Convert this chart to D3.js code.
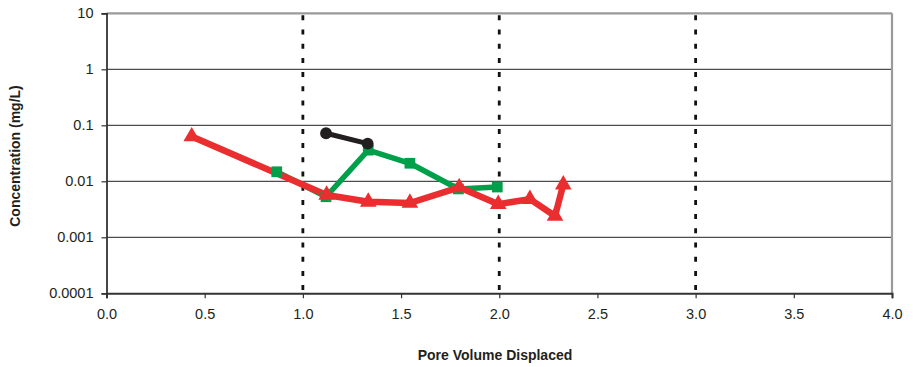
<!DOCTYPE html>
<html>
<head>
<meta charset="utf-8">
<script src="https://cdn.jsdelivr.net/npm/d3@7"></script>
<style>
  html, body { margin: 0; padding: 0; background: #fff; }
  svg { display: block; }
  text { font-family: "Liberation Sans", Arial, sans-serif; fill: #231f20; }
</style>
</head>
<body>
<svg id="chart" width="913" height="367"></svg>
<script>
// Pore volumes displaced and concentrations (mg/L) for each sampled series
const redX = [0.434, 1.121, 1.333, 1.545, 1.796, 1.995, 2.156, 2.284, 2.326];
const redY = [0.063, 0.0057, 0.0043, 0.0041, 0.0078, 0.0039, 0.0048, 0.0024, 0.0087];

const greenX = [0.867, 1.118, 1.333, 1.545, 1.792, 1.990];
const greenY = [0.0148, 0.0053, 0.036, 0.021, 0.0073, 0.0079];

const blackX = [1.118, 1.330];
const blackY = [0.072, 0.047];

const xTicks = [0, 0.5, 1, 1.5, 2, 2.5, 3, 3.5, 4];
const yTicks = [0.0001, 0.001, 0.01, 0.1, 1, 10];
const yTickLabels = ["0.0001", "0.001", "0.01", "0.1", "1", "10"];
const refLines = [1, 2, 3];

const svg = d3.select("#chart");
const plotLeft = 106.5, plotRight = 892, plotTop = 13.3, plotBottom = 293.3;

const x = d3.scaleLinear().domain([0, 4]).range([plotLeft, plotRight]);
const y = d3.scaleLog().domain([0.0001, 10]).range([plotBottom, plotTop]);

// horizontal gridlines
svg.append("g").selectAll("line")
  .data(yTicks.slice(1, -1))
  .join("line")
  .attr("x1", plotLeft).attr("x2", plotRight)
  .attr("y1", d => y(d)).attr("y2", d => y(d))
  .attr("stroke", "#4d4d4d").attr("stroke-width", 1.3);

// frame: light top and right edges
svg.append("line").attr("x1", plotLeft).attr("x2", plotRight).attr("y1", plotTop).attr("y2", plotTop)
  .attr("stroke", "#9a9a9a").attr("stroke-width", 2.2);
svg.append("line").attr("x1", plotRight).attr("x2", plotRight).attr("y1", plotTop).attr("y2", plotBottom)
  .attr("stroke", "#9a9a9a").attr("stroke-width", 2.2);

// dotted reference lines at whole pore volumes
svg.append("g").selectAll("line")
  .data(refLines)
  .join("line")
  .attr("x1", d => x(d)).attr("x2", d => x(d))
  .attr("y1", plotTop + 2).attr("y2", plotBottom)
  .attr("stroke", "#111").attr("stroke-width", 2.8)
  .attr("stroke-dasharray", "5,9.2");

// axes
const xAxis = svg.append("g")
  .attr("transform", `translate(0,${plotBottom})`)
  .call(d3.axisBottom(x).tickValues(xTicks).tickFormat(d3.format(".1f")).tickSize(5).tickPadding(10));
xAxis.select(".domain").attr("stroke", "#333").attr("stroke-width", 2);
xAxis.selectAll(".tick line").attr("stroke", "#333").attr("stroke-width", 1.2);
xAxis.selectAll("text").attr("font-size", 14.5).attr("fill", "#333")
  .attr("font-family", "Liberation Sans, Arial, sans-serif");

const yAxis = svg.append("g")
  .attr("transform", `translate(${plotLeft},0)`)
  .call(d3.axisLeft(y).tickValues(yTicks).tickFormat((d, i) => yTickLabels[i]).tickSize(5).tickPadding(8));
yAxis.select(".domain").attr("stroke", "#333").attr("stroke-width", 1.8);
yAxis.selectAll(".tick line").attr("stroke", "#333").attr("stroke-width", 1.2);
yAxis.selectAll("text").attr("font-size", 14.5).attr("fill", "#333")
  .attr("font-family", "Liberation Sans, Arial, sans-serif");

// axis titles
svg.append("text")
  .attr("x", 495).attr("y", 360)
  .attr("text-anchor", "middle")
  .attr("font-size", 14).attr("font-weight", "bold")
  .text("Pore Volume Displaced");

svg.append("text")
  .attr("transform", "translate(20,156) rotate(-90)")
  .attr("text-anchor", "middle")
  .attr("font-size", 14).attr("font-weight", "bold")
  .text("Concentration (mg/L)");

const line = d3.line().x(d => x(d[0])).y(d => y(d[1]));
const toPts = (xs, ys) => xs.map((v, i) => [v, ys[i]]);

function drawLine(pts, color, width) {
  svg.append("path")
    .datum(pts)
    .attr("d", line)
    .attr("fill", "none")
    .attr("stroke", color)
    .attr("stroke-width", width)
    .attr("stroke-linejoin", "round");
}

function drawMarkers(pts, color, symbol, size) {
  svg.append("g").selectAll("path")
    .data(pts)
    .join("path")
    .attr("transform", d => `translate(${x(d[0])},${y(d[1])})`)
    .attr("d", d3.symbol().type(symbol).size(size))
    .attr("fill", color);
}

const red = toPts(redX, redY), green = toPts(greenX, greenY), black = toPts(blackX, blackY);

// lines first, then markers on top
drawLine(green, "#00a04b", 5.5);
drawLine(red, "#ea2e2f", 6.5);
drawMarkers(green, "#00a04b", d3.symbolSquare, 115);
drawMarkers(red, "#ea2e2f", d3.symbolTriangle, 120);
drawLine(black, "#231f20", 5);
drawMarkers(black, "#231f20", d3.symbolCircle, 110);
</script>
</body>
</html>
